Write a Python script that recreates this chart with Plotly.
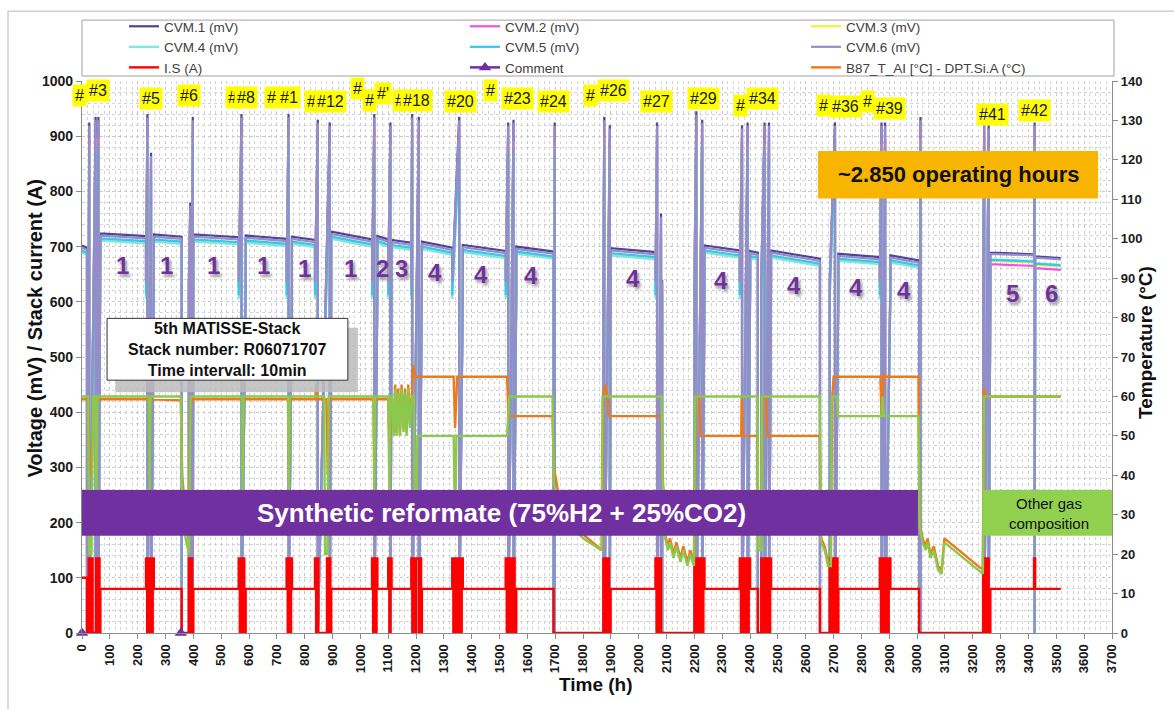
import plotly.graph_objects as go

FONT = "Liberation Sans, Arial, sans-serif"

# ---------------- data ----------------
# loaded plateaus (stack current / CVM.1 voltage at start & end)
run_t0 = [0, 66, 258, 400, 588, 754, 895, 1061, 1112, 1221, 1368, 1560, 1899, 2236, 2400, 2475, 2717, 2904, 3263, 3424]
run_t1 = [18, 230, 358, 563, 735, 837, 1042, 1100, 1183, 1330, 1522, 1694, 2060, 2363, 2428, 2651, 2866, 3007, 3420, 3516]
run_amp = [100, 80, 80, 80, 80, 80, 80, 80, 80, 80, 80, 80, 80, 80, 80, 80, 80, 80, 80, 80]
run_mv0 = [702, 724, 722, 722, 720, 718, 727, 719, 712, 709, 703, 700, 697, 702, 692, 693, 687, 684, 689, 682]
run_mv1 = [698, 719, 718, 717, 714, 712, 713, 713, 707, 698, 692, 691, 690, 693, 689, 678, 681, 675, 686, 679]

# stack switched off
off_t0 = [18, 358, 1694, 2084, 2428, 2651, 3007]
off_t1 = [24, 384, 1873, 2200, 2440, 2686, 3237]

# start-up / shut-down current cycling (switch times, h)
burst_amp = 135
burst_edges = [
    [24, 27, 30, 33, 36, 38, 51, 55, 59, 63, 66],
    [230, 234, 238, 242, 246, 250, 254, 258],
    [384, 388, 392, 396, 400],
    [563, 567, 571, 575, 579, 583, 588],
    [735, 739, 743, 747, 751, 754],
    [837, 841, 845, 849, 880, 884, 888, 892, 895],
    [1042, 1046, 1050, 1054, 1058, 1061],
    [1100, 1104, 1108, 1112],
    [1183, 1187, 1191, 1195, 1199, 1210, 1214, 1218, 1221],
    [1330, 1334, 1338, 1342, 1346, 1352, 1356, 1360, 1364, 1368],
    [1522, 1526, 1530, 1534, 1538, 1546, 1550, 1554, 1560],
    [1873, 1877, 1881, 1885, 1889, 1893, 1899],
    [2060, 2064, 2068, 2072, 2076, 2080, 2084],
    [2200, 2204, 2208, 2212, 2216, 2220, 2224, 2228, 2232, 2236],
    [2363, 2367, 2371, 2375, 2379, 2383, 2387, 2391, 2395, 2400],
    [2440, 2444, 2448, 2452, 2456, 2460, 2464, 2468, 2472, 2475],
    [2686, 2690, 2694, 2698, 2702, 2706, 2710, 2714, 2717],
    [2866, 2870, 2874, 2878, 2882, 2886, 2890, 2894, 2898, 2904],
    [3237, 3241, 3245, 3249, 3253, 3257, 3263],
    [3420, 3424],
]

# open-circuit voltage spikes
spike_t = [26, 49, 59, 235, 248, 389, 398, 573, 742, 847, 890, 1050, 1108, 1186, 1210, 1355, 1531, 1550,
           1698, 1876, 1896, 2066, 2080, 2207, 2228, 2371, 2391, 2452, 2468, 2705, 2872, 2885, 3012, 3241, 3257, 3422]
spike_mv = [925, 935, 935, 940, 870, 780, 935, 940, 940, 930, 925, 940, 925, 940, 935, 935, 925, 930,
            925, 935, 920, 925, 760, 945, 930, 920, 925, 925, 925, 925, 925, 925, 935, 930, 920, 925]

cvm_names = ["CVM.1 (mV)", "CVM.2 (mV)", "CVM.3 (mV)", "CVM.4 (mV)", "CVM.5 (mV)", "CVM.6 (mV)"]
cvm_colors = ["#4f449a", "#f050e8", "#f0f03a", "#7ce6e6", "#38c6ea", "#958cc8"]
cvm_offset_early = [0, -11, -12, -13, -9, -4]
cvm_offset_late = [0, -21, -15, -12, -13, -2]
cvm_burst_mv = [640, 628, 632, 605, 612, 636]
cvm_spike_drop = [0, 30, 40, 60, 50, 6]
late_start = 3237

# temperatures (deg C)
orange_t = [0, 22, 26, 34, 42, 60,
            240, 243, 246,
            355, 360, 372, 384, 390, 398,
            575, 577, 580,
            740, 743, 746,
            838, 841, 845, 878, 883, 888,
            1047, 1050, 1053,
            1100, 1105, 1112,
            1120, 1125, 1130, 1136, 1142, 1148, 1155, 1160, 1166, 1172, 1178, 1185, 1190, 1196,
            1335, 1340, 1348,
            1527, 1532,
            1690, 1695, 1720, 1800, 1868, 1872, 1878, 1888, 1892,
            2082, 2086, 2095, 2105, 2112, 2125, 2135, 2150, 2160, 2175, 2185, 2198, 2205, 2218, 2222,
            2368, 2370, 2374,
            2426, 2430, 2440, 2445, 2458, 2462,
            2650, 2655, 2668, 2680, 2690, 2695, 2700,
            2868, 2872, 2880, 2883,
            3005, 3009, 3020, 3030, 3038, 3048, 3060, 3075, 3088, 3098, 3236, 3240, 3245, 3516]
orange_c = [59.3, 59.3, 45, 40, 58, 59.3,
            59.3, 51, 59.3,
            59, 40, 30, 24, 58, 59.3,
            59.3, 40, 59.3,
            59.3, 41, 59.3,
            59.3, 63, 59.3, 59.3, 40, 59.3,
            59.3, 42, 59.3,
            59.3, 45, 59.3,
            52, 63, 51, 62, 50, 63, 52, 62, 51, 63, 54, 60, 68, 65,
            65, 52, 65,
            65, 55,
            55, 42, 32, 25, 21, 60, 63, 60, 55,
            55, 40, 25, 22, 24, 20, 23, 19, 22, 18, 21, 18, 60, 60, 50,
            50, 60, 50,
            50, 22, 22, 60, 60, 50,
            50, 24, 22, 18, 18, 60, 65,
            65, 55, 66, 65,
            65, 28, 24, 22, 24, 20, 22, 17, 16, 24, 16, 62, 60, 60]

green_t = [0, 22, 26, 34, 40, 48, 51, 56,
           240, 243, 246,
           355, 360, 372, 384, 390,
           575, 577, 580,
           740, 743, 746,
           870, 873, 882, 886,
           1047, 1050, 1053,
           1100, 1104, 1108,
           1112, 1120, 1125, 1130, 1136, 1142, 1148, 1155, 1160, 1166, 1172, 1178, 1185, 1192, 1195, 1200, 1205,
           1335, 1340, 1345,
           1527, 1535,
           1690, 1695, 1720, 1800, 1866, 1870,
           2082, 2086, 2095, 2105, 2112, 2125, 2135, 2150, 2160, 2175, 2185, 2198, 2203,
           2426, 2430, 2440, 2443,
           2650, 2655, 2668, 2680, 2690, 2693, 2712, 2715,
           2872, 2876, 2880,
           3005, 3009, 3020, 3030, 3038, 3048, 3060, 3075, 3088, 3098, 3236, 3240, 3516]
green_c = [60, 60, 20, 20, 60, 60, 25, 60,
           60, 36, 60,
           60, 36, 24, 20, 60,
           60, 36, 60,
           60, 36, 60,
           60, 20, 20, 60,
           60, 36, 60,
           60, 36, 60,
           60, 50, 62, 50, 61, 50, 62, 51, 61, 50, 62, 52, 60, 60, 30, 30, 50,
           50, 25, 50,
           50, 60,
           60, 38, 30, 24, 21, 60,
           60, 39, 24, 21, 23, 19, 22, 18, 21, 17, 20, 17, 60,
           60, 21, 21, 60,
           60, 23, 21, 17, 17, 60, 60, 55,
           55, 60, 55,
           55, 27, 23, 21, 23, 19, 21, 16, 15, 23, 15, 60, 60]

comment_t = [0, 355]

# text labels
cycle_labels = ["1", "1", "1", "1", "1", "1", "2", "3", "4", "4", "4", "4", "4", "4", "4", "4", "5", "6"]
cycle_t = [145, 305, 473, 652, 800, 966, 1081, 1146, 1268, 1433, 1613, 1979, 2295, 2558, 2780, 2953, 3341, 3484]
cycle_mv = [665, 665, 665, 665, 660, 660, 660, 660, 653, 649, 647, 642, 638, 629, 626, 620, 615, 615]

event_labels = ["#", "#3", "#5", "#6", "#", "#8", "#", "#1", "#", "#12", "#", "#", "#'", "#", "#18", "#20",
                "#", "#23", "#24", "#", "#26", "#27", "#29", "#", "#34", "#", "#36", "#", "#39", "#41", "#42"]
event_t = [0, 57, 248, 384, 539, 590, 682, 744, 826, 894, 988, 1031, 1081, 1139, 1203, 1361,
           1466, 1563, 1695, 1828, 1911, 2062, 2231, 2367, 2443, 2662, 2741, 2823, 2899, 3272, 3423]
event_mv = [973, 982, 969, 973, 971, 971, 971, 971, 962, 962, 986, 964, 978, 964, 964, 962,
            982, 969, 962, 973, 982, 962, 969, 955, 969, 955, 953, 962, 951, 940, 946]

# ---------------- build series ----------------
phases = []
for a, b, amp, v0, v1 in zip(run_t0, run_t1, run_amp, run_mv0, run_mv1):
    phases.append((a, b, "run", (amp, v0, v1)))
for a, b in zip(off_t0, off_t1):
    phases.append((a, b, "off", None))
for e in burst_edges:
    phases.append((e[0], e[-1], "burst", e))
phases.sort(key=lambda p: p[0])


def cvm_series(k):
    xs, ys = [], []
    for t0, t1, kind, info in phases:
        if kind == "run":
            off = cvm_offset_late[k] if t0 >= late_start else cvm_offset_early[k]
            b0, b1 = info[1] + off, info[2] + off
        elif kind == "off":
            b0 = b1 = 0
        else:
            b0 = b1 = cvm_burst_mv[k]
        xs.append(t0)
        ys.append(b0)
        for ts, pk in zip(spike_t, spike_mv):
            if t0 < ts < t1:
                xs += [ts, ts]
                ys += [pk - cvm_spike_drop[k], 0]
        xs.append(t1)
        ys.append(b1)
    return xs, ys


def current_series():
    xs, ys = [], []
    for t0, t1, kind, info in phases:
        if kind == "run":
            xs += [t0, t1]
            ys += [info[0], info[0]]
        elif kind == "off":
            xs += [t0, t1]
            ys += [0, 0]
        else:
            for i in range(len(info) - 1):
                lvl = burst_amp if i % 2 == 0 else 0
                xs += [info[i], info[i + 1]]
                ys += [lvl, lvl]
    return xs, ys


fig = go.Figure()
for k in range(6):
    x, y = cvm_series(k)
    fig.add_trace(go.Scatter(x=x, y=y, mode="lines", name=cvm_names[k],
                             line=dict(color=cvm_colors[k], width=2.2)))
cx, cy = current_series()
fig.add_trace(go.Scatter(x=cx, y=cy, mode="lines", name="I.S (A)", line=dict(color="#ff0000", width=2.4)))
fig.add_trace(go.Scatter(x=[comment_t[0], None, comment_t[1]], y=[0, None, 0], mode="lines+markers",
                         name="Comment", cliponaxis=False,
                         line=dict(color="#7030a0", width=2.5),
                         marker=dict(symbol="triangle-up", size=11, color="#7030a0")))
fig.add_trace(go.Scatter(x=orange_t, y=orange_c, mode="lines", name="B87_T_AI [°C] - DPT.Si.A (°C)",
                         yaxis="y2", line=dict(color="#ec7a1c", width=2.4)))
fig.add_trace(go.Scatter(x=green_t, y=green_c, mode="lines", name="DPT.Si.A (°C)", showlegend=False,
                         yaxis="y2", line=dict(color="#8cc84b", width=2.4)))

# ---------------- layout ----------------
L, R, T, B = 82, 62, 80, 76
W, H = 1174, 709
PW, PH = W - L - R, H - T - B


def px(xp):
    return (xp - L) / PW


def py(yp):
    return (H - B - yp) / PH


grid = dict(showgrid=True, gridcolor="#c9c9c9", griddash="dot", gridwidth=1)
minor = dict(dtick=20, showgrid=True, gridcolor="#d4d4d4", griddash="dot", gridwidth=1, ticks="")
tickfont = dict(family=FONT, size=13, color="#1a1a1a", weight="bold")

shapes = [
    # outer frame
    dict(type="rect", xref="paper", yref="paper", x0=px(8), x1=px(1190), y0=py(725), y1=py(10),
         line=dict(color="#d0d0d0", width=1.5), layer="above"),
    # legend frame
    dict(type="rect", xref="paper", yref="paper", x0=px(82), x1=px(1114), y0=py(75), y1=py(19),
         line=dict(color="#a0a0a0", width=1), layer="above"),
    # gas composition bars
    dict(type="rect", xref="x", yref="y", x0=0, x1=3003, y0=176, y1=259,
         fillcolor="#7030a0", line=dict(width=0), layer="above"),
    dict(type="rect", xref="x", yref="y", x0=3237, x1=3700, y0=176, y1=259,
         fillcolor="#92d050", line=dict(width=0), layer="above"),
    # info box shadow + box
    dict(type="rect", xref="x", yref="y", x0=120, x1=991, y0=436, y1=553,
         fillcolor="#bcbcbc", opacity=0.85, line=dict(width=0), layer="above"),
    dict(type="rect", xref="x", yref="y", x0=90, x1=955, y0=458, y1=570,
         fillcolor="white", line=dict(color="#333333", width=1), layer="above"),
    # operating hours box
    dict(type="rect", xref="x", yref="y", x0=2644, x1=3650, y0=787, y1=873,
         fillcolor="#f7b500", line=dict(width=0), layer="above"),
]

annotations = [
    dict(x=1507, y=217, xref="x", yref="y", text="Synthetic reformate (75%H2 + 25%CO2)", showarrow=False,
         font=dict(family=FONT, size=26, color="white", weight="bold")),
    dict(x=3473, y=217, xref="x", yref="y", text="Other gas<br>composition", showarrow=False,
         font=dict(family=FONT, size=15, color="#111111")),
    dict(x=522, y=514, xref="x", yref="y",
         text="5th MATISSE-Stack<br>Stack number: R06071707<br>Time intervall: 10min", showarrow=False,
         font=dict(family=FONT, size=16, color="#111111", weight="bold")),
    dict(x=3147, y=830, xref="x", yref="y", text="~2.850 operating hours", showarrow=False,
         font=dict(family=FONT, size=22, color="#111111", weight="bold")),
    # axis titles
    dict(x=px(22), y=py(328), xref="paper", yref="paper", text="Voltage (mV) / Stack current (A)",
         textangle=-90, showarrow=False, font=dict(family=FONT, size=20, color="#111111", weight="bold")),
    dict(x=px(1158), y=py(342), xref="paper", yref="paper", text="Temperature (°C)",
         textangle=-90, showarrow=False, font=dict(family=FONT, size=19, color="#111111", weight="bold")),
    dict(x=px(596), y=py(697), xref="paper", yref="paper", text="Time (h)",
         showarrow=False, font=dict(family=FONT, size=19, color="#111111", weight="bold")),
]
for txt, t, mv in zip(cycle_labels, cycle_t, cycle_mv):
    annotations.append(dict(x=t, y=mv, xref="x", yref="y", text=txt, showarrow=False,
                            font=dict(family=FONT, size=24, color="#7030a0", weight="bold",
                                      shadow="2px 3px 3px #9a9a9a")))
for i, (txt, t, mv) in enumerate(zip(event_labels, event_t, event_mv)):
    annotations.append(dict(x=t, y=mv, xref="x", yref="y", text=txt, showarrow=False,
                            xshift=-3 if i == 0 else 0,
                            bgcolor="#ffff00", borderpad=2,
                            font=dict(family=FONT, size=16, color="#1a1a1a")))

fig.update_layout(
    width=W, height=H, autosize=False,
    margin=dict(l=L, r=R, t=T, b=B, pad=0),
    paper_bgcolor="white", plot_bgcolor="white",
    font=dict(family=FONT, color="#1a1a1a"),
    showlegend=True,
    legend=dict(orientation="h", x=px(124), xanchor="left", y=py(11), yanchor="top",
                entrywidth=296, entrywidthmode="pixels", traceorder="normal",
                font=dict(family=FONT, size=13.5, color="#404040"), bgcolor="rgba(0,0,0,0)",
                itemwidth=30, tracegroupgap=0),
    xaxis=dict(range=[0, 3700], tickmode="linear", tick0=0, dtick=100, tickangle=-90,
               tickfont=tickfont, showline=True, linecolor="#8c8c8c", linewidth=1.2,
               ticks="outside", ticklen=5, tickcolor="#8c8c8c", zeroline=False,
               minor=minor, **grid),
    yaxis=dict(range=[0, 1000], tickmode="linear", tick0=0, dtick=100, tickfont=dict(tickfont, size=14),
               showline=True, linecolor="#8c8c8c", linewidth=1.2, ticks="outside", ticklen=5,
               tickcolor="#8c8c8c", zeroline=False, minor=minor, **grid),
    yaxis2=dict(range=[0, 140], tickmode="linear", tick0=0, dtick=10, overlaying="y", side="right",
                tickfont=tickfont, showline=True, linecolor="#8c8c8c", linewidth=1.2, ticks="outside",
                ticklen=5, tickcolor="#8c8c8c", showgrid=False, zeroline=False),
    shapes=shapes,
    annotations=annotations,
)

fig.write_html("out.html")
